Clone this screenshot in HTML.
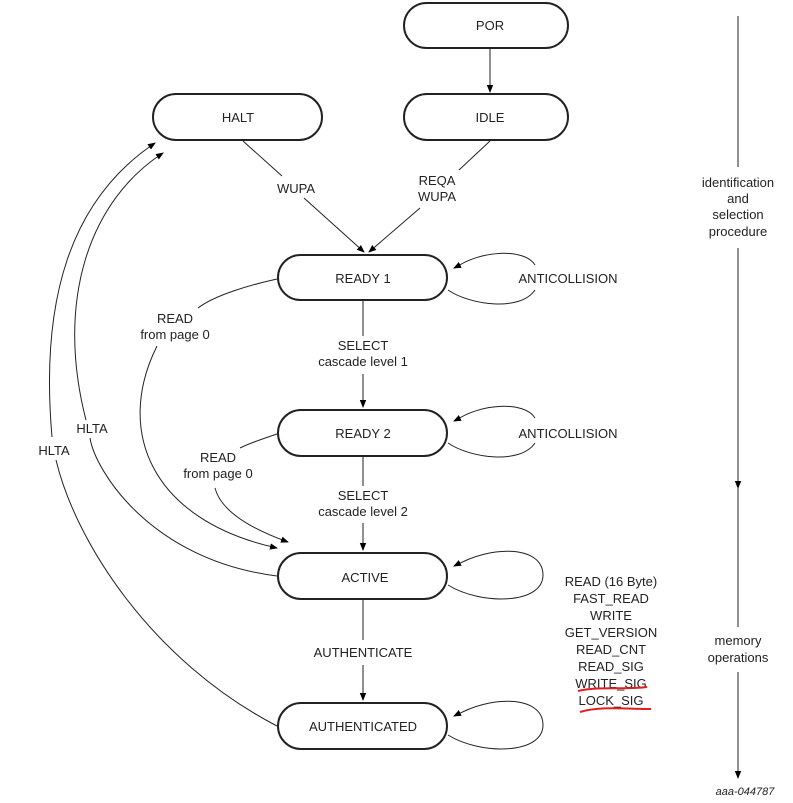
<!DOCTYPE html>
<html><head><meta charset="utf-8"><style>
html,body{margin:0;padding:0;background:#fff;}
svg{display:block;}
text{font-family:"Liberation Sans",sans-serif;font-size:13px;fill:#222;text-anchor:middle;}
</style></head><body>
<svg width="793" height="803" viewBox="0 0 793 803" xmlns="http://www.w3.org/2000/svg">
<defs><marker id="a" markerWidth="8" markerHeight="8" refX="7" refY="4" orient="auto" markerUnits="userSpaceOnUse"><path d="M0,0.8 L8,4 L0,7.2 Z" fill="#000"/></marker></defs>
<g fill="#fff" stroke="#222" stroke-width="2">
<rect x="404" y="3" width="164" height="45" rx="22.5"/>
<rect x="153" y="94" width="169" height="46" rx="23"/>
<rect x="404" y="94" width="164" height="46" rx="23"/>
<rect x="278" y="255" width="169" height="45" rx="22.5"/>
<rect x="278" y="410" width="169" height="46" rx="23"/>
<rect x="278" y="553" width="169" height="46" rx="23"/>
<rect x="278" y="703" width="169" height="46" rx="23"/>
</g>
<g fill="none" stroke="#222" stroke-width="1">
<line x1="490" y1="48" x2="490" y2="92" marker-end="url(#a)"/>
<line x1="243" y1="141" x2="282" y2="176"/>
<line x1="304" y1="198" x2="364" y2="252" marker-end="url(#a)"/>
<line x1="490" y1="141" x2="459" y2="170"/>
<line x1="420" y1="208" x2="369" y2="252" marker-end="url(#a)"/>
<line x1="363" y1="301" x2="363" y2="336"/>
<line x1="363" y1="374" x2="363" y2="407" marker-end="url(#a)"/>
<line x1="363" y1="457" x2="363" y2="486"/>
<line x1="363" y1="523" x2="363" y2="550" marker-end="url(#a)"/>
<line x1="363" y1="600" x2="363" y2="640"/>
<line x1="363" y1="665" x2="363" y2="700" marker-end="url(#a)"/>
<!-- self loops -->
<path d="M448,290 C470,305 520,312 535,290 M535,265 C525,248 480,250 455,268"/>
<path d="M456,267 L454,268" marker-end="url(#a)"/>
<path d="M448,443 C470,458 520,465 535,443 M535,418 C525,401 480,403 455,421"/>
<path d="M456,420 L454,421" marker-end="url(#a)"/>
<path d="M448,585 C480,605 543,605 543,575 C543,545 490,545 455,566"/>
<path d="M456,565 L454,566" marker-end="url(#a)"/>
<path d="M448,735 C480,755 543,755 543,725 C543,695 490,695 455,716"/>
<path d="M456,715 L454,716" marker-end="url(#a)"/>
<!-- READ from page 0 -->
<path d="M277,279 C250,285 215,295 198,308"/>
<path d="M157,346 C115,430 150,520 277,548" marker-end="url(#a)"/>
<path d="M277,434 C265,438 250,443 240,448"/>
<path d="M215,488 C222,515 260,532 288,542" marker-end="url(#a)"/>
<!-- HLTA -->
<path d="M277,576 C150,560 95,470 90,438"/>
<path d="M86,420 C55,300 90,200 163,153" marker-end="url(#a)"/>
<path d="M277,726 C150,660 75,540 56,460"/>
<path d="M52,437 C40,300 70,200 155,143" marker-end="url(#a)"/>
<!-- right axis -->
<line x1="738" y1="16" x2="738" y2="167"/>
<line x1="738" y1="248" x2="738" y2="488" marker-end="url(#a)"/>
<line x1="738" y1="488" x2="738" y2="627"/>
<line x1="738" y1="672" x2="738" y2="778" marker-end="url(#a)"/>
</g>
<text x="490" y="30">POR</text>
<text x="238" y="122">HALT</text>
<text x="490" y="122">IDLE</text>
<text x="296" y="193">WUPA</text>
<text x="437" y="185">REQA</text>
<text x="437" y="201">WUPA</text>
<text x="363" y="283">READY 1</text>
<text x="568" y="283">ANTICOLLISION</text>
<text x="175" y="323">READ</text>
<text x="175" y="339">from page 0</text>
<text x="363" y="350">SELECT</text>
<text x="363" y="366">cascade level 1</text>
<text x="363" y="438">READY 2</text>
<text x="568" y="438">ANTICOLLISION</text>
<text x="218" y="462">READ</text>
<text x="218" y="478">from page 0</text>
<text x="363" y="500">SELECT</text>
<text x="363" y="516">cascade level 2</text>
<text x="92" y="433">HLTA</text>
<text x="54" y="455">HLTA</text>
<text x="365" y="582">ACTIVE</text>
<text x="363" y="657">AUTHENTICATE</text>
<text x="363" y="731">AUTHENTICATED</text>
<text x="611" y="586">READ (16 Byte)</text>
<text x="611" y="603">FAST_READ</text>
<text x="611" y="620">WRITE</text>
<text x="611" y="637">GET_VERSION</text>
<text x="611" y="654">READ_CNT</text>
<text x="611" y="671">READ_SIG</text>
<text x="611" y="688">WRITE_SIG</text>
<text x="611" y="705">LOCK_SIG</text>
<path d="M578,691 C600,686 625,690 647,687" stroke="#e02020" stroke-width="2" fill="none"/>
<path d="M580,712 C600,706 625,709 651,709" stroke="#e02020" stroke-width="2" fill="none"/>
<text x="738" y="187">identification</text>
<text x="738" y="203">and</text>
<text x="738" y="219">selection</text>
<text x="738" y="236">procedure</text>
<text x="738" y="645">memory</text>
<text x="738" y="662">operations</text>
<text x="745" y="795" style="font-style:italic;font-size:11px">aaa-044787</text>
</svg>
</body></html>
